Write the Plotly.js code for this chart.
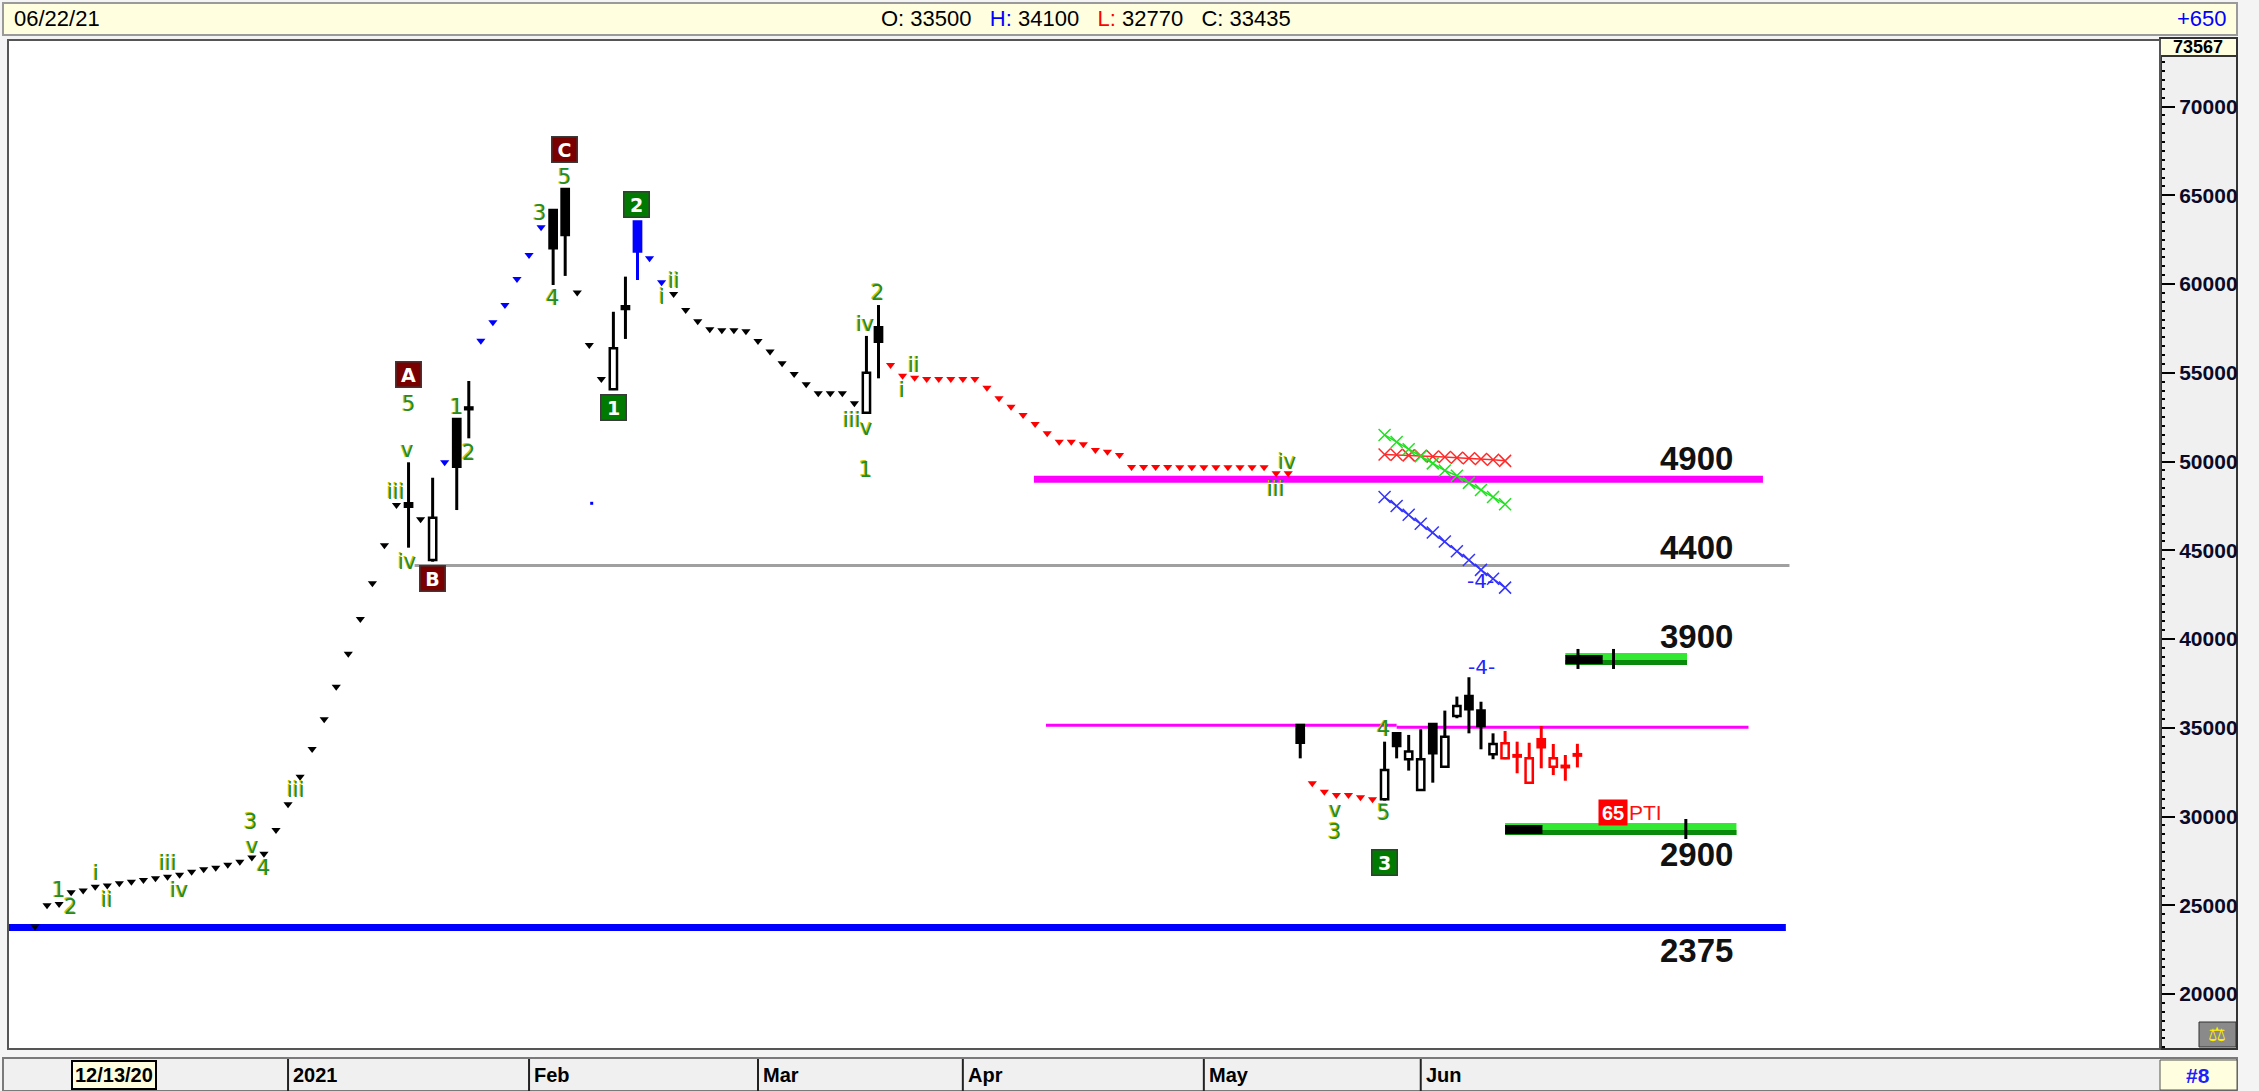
<!DOCTYPE html>
<html><head><meta charset="utf-8">
<script src="https://cdn.plot.ly/plotly-3.0.1.min.js"></script>
<style>html,body{margin:0;padding:0;background:#f4f4f4;}#chart{width:2259px;height:1091px;}</style>
</head><body><div id="chart"></div>
<script>
// ---------------- DATA ----------------
// bar slot index (x) and price (y)
const blackDotX = [0,1,2,3,4,5,6,7,8,9,10,11,12,13,14,15,16,17,18,19,20,21,22,23,24,25,26,27,28,29,30,32,45,46,47,53,54,55,56,57,58,59,60,61,62,63,64,65,66,67,68];
const blackDotY = [23800,25000,25070,25730,25830,26050,26110,26240,26330,26430,26520,26610,26720,26890,27030,27120,27290,27460,27700,27910,29240,30690,32250,33810,35480,37320,39180,41130,43140,45280,47550,46750,59520,56570,54650,59440,58540,57900,57450,57400,57400,57350,56800,56200,55540,54940,54350,53850,53850,53850,53280];
const blueDotX = [34,37,38,39,40,41,42,51,52];
const blueDotY = [49960,56810,57850,58820,60290,61640,63200,61450,60100];
const redDotX = [71,72,73,74,75,76,77,78,79,80,81,82,83,84,85,86,87,88,89,90,91,92,93,94,95,96,97,98,99,100,101,102,103,104,106,107,108,109,110,111];
const redDotY = [55440,54840,54730,54650,54650,54650,54650,54650,54160,53570,53090,52630,52120,51590,51120,51120,50970,50650,50560,50370,49690,49690,49690,49690,49680,49680,49680,49680,49680,49680,49680,49680,49340,49340,31880,31400,31220,31220,31090,30970];
const tinyBlueX = [46.2];
const tinyBlueY = [47650];

const candleX = [31,33,35,36,43,44,48,49,69,70,105,112,113,114,115,116,117,118,119,120,121];
const candleO = [47650,44460,52400,53050,64180,65360,54070,58750,52750,57570,35160,30970,34690,33230,31500,35220,32810,35670,36790,35970,33510];
const candleH = [49960,49090,52400,54540,64180,65360,58440,60420,57080,58820,35160,34220,34750,34600,34920,35250,35970,36760,37850,36470,34690];
const candleL = [45150,44360,47270,51310,59950,60460,54030,56910,52720,54690,33280,30900,33280,32590,31460,31910,32780,35540,34690,33790,33230];
const candleC = [47460,46840,49710,52950,62020,62770,56380,58600,55010,56750,34160,32620,33980,33660,33230,33570,34500,36230,36040,35100,34090];

const blueCandleX = [50];
const blueCandleO = [63520];
const blueCandleH = [63520];
const blueCandleL = [60230];
const blueCandleC = [61830];

const redCandleX = [122,123,124,125,126,127,128];
const redCandleO = [33280,33450,31910,34350,32810,32850,33500];
const redCandleH = [34820,34220,34160,35100,34090,33470,34100];
const redCandleL = [33230,32440,31880,32720,32340,32020,32770];
const redCandleC = [34130,33380,33280,33900,33280,32780,33435];

// trend lines made of x markers
const xLineX = [112,113,114,115,116,117,118,119,120,121,122];
const redXLineY = [50400,50380,50350,50330,50290,50260,50220,50190,50150,50100,50040];
const greenXLineY = [51500,51100,50700,50300,49900,49500,49200,48800,48400,48000,47600];
const blueXLineY = [48000,47500,47000,46500,46000,45500,44950,44450,43900,43400,42900];

// horizontal levels
const levelValue = [49000,44150,23750,35140,35030];
const levelStart = [82.9,31.5,-2.3,83.9,113];
const levelEnd   = [143.4,145.6,145.3,113,142.2];
const levelLabelText = ['4900','4400','3900','2900','2375'];
const levelLabelY = [50200,45160,40130,27890,22430];
const levelLabelX = 137.9;

// target zones
const zoneValue = [38880,29300];
const zoneStart = [127.0,122.0];
const zoneEnd = [137.1,141.2];
const zoneBlackEnd = [130.1,125.1];
const zoneTicks = [[128.05,131.0],[137.0]];

// wave labels
const waveText = ['1','2','i','ii','iii','iv','3','v','4','iii','v','iii','2','iv','5','3','4','5','1','ii','i','2','iv','ii','i','iii','v','1','iv','iii','4','5','v','3'];
const waveX = [1.93,2.96,5.04,6.0,11.06,11.95,17.9,17.98,18.95,21.63,30.9,30.0,35.96,30.9,43.93,41.9,42.93,30.98,34.94,53.03,52.0,69.93,68.88,72.97,71.98,67.78,68.96,68.94,103.93,102.99,111.89,111.89,107.88,107.88];
const waveY = [25860,24920,26800,25300,27370,25860,29710,28340,27090,31500,50650,48300,50500,44360,66020,63990,59200,53240,53060,60190,59290,59520,57750,55440,54030,52340,51910,49530,49990,48440,34920,30220,30370,29150];

const boxText = ['A','B','C','1','2','3'];
const boxX = [30.98,33.0,43.98,47.99,49.93,111.98];
const boxY = [54880,43390,67610,53060,64500,27420];
const boxKind = ['red','red','red','green','green','green'];

const blueMarkText = ['-4-','-4-'];
const blueMarkX = [120.06,120.0];
const blueMarkY = [38440,43300];

const ptiValue = '65';
const ptiX = 130.98;
const ptiY = 30230;

// time axis labels
const monthText = ['12/13/20','2021','Feb','Mar','Apr','May','Jun'];
const monthPos = [3,21,41,60,77,97,115];

// header
const hdrDate = '06/22/21';
const hdrO = 33500, hdrH = 34100, hdrL = 32770, hdrC = 33435;
const hdrChange = '+650';
const axisTopValue = '73567';
const panelNo = '#8';

// ---------------- LAYOUT HELPERS ----------------
const W = 2259, H = 1091;
const M = {l:8, r:99, t:40, b:42};
const plotW = W - M.l - M.r, plotH = H - M.t - M.b;
const px = x => (x - M.l) / plotW;
const py = y => (H - M.b - y) / plotH;

const traces = [];
function wickTrace(X,O,Hi,L,C,color){
  const x=[],y=[];
  for(let i=0;i<X.length;i++){
    const top=Math.max(O[i],C[i]), bot=Math.min(O[i],C[i]);
    x.push(X[i],X[i],null,X[i],X[i],null);
    y.push(Hi[i],top,null,bot,L[i],null);
  }
  return {type:'scatter',mode:'lines',x,y,line:{color,width:3},hoverinfo:'skip',showlegend:false,connectgaps:false};
}
function bodyTrace(X,O,C,upFill,downFill,lineColor){
  return {type:'bar',x:X,base:X.map((_,i)=>Math.min(O[i],C[i])),
    y:X.map((_,i)=>Math.max(Math.abs(C[i]-O[i]),80)),width:0.6,
    marker:{color:X.map((_,i)=>C[i]>=O[i]?upFill:downFill),line:{color:lineColor,width:2.5}},
    hoverinfo:'skip',showlegend:false};
}
function dots(X,Y,color,size){
  return {type:'scatter',mode:'markers',x:X,y:Y,marker:{symbol:'triangle-down',size:size||8,color},hoverinfo:'skip',showlegend:false};
}
function xline(Y,color){
  return {type:'scatter',mode:'lines+markers',x:xLineX,y:Y,line:{color,width:1.5},
    marker:{symbol:'x-thin-open',size:12,line:{color,width:1.5},color},hoverinfo:'skip',showlegend:false};
}

traces.push(wickTrace(candleX,candleO,candleH,candleL,candleC,'#000'));
traces.push(wickTrace(blueCandleX,blueCandleO,blueCandleH,blueCandleL,blueCandleC,'#0000ff'));
traces.push(wickTrace(redCandleX,redCandleO,redCandleH,redCandleL,redCandleC,'#ff0000'));
traces.push(dots(blackDotX,blackDotY,'#000'));
traces.push(dots(blueDotX,blueDotY,'#0000ff'));
traces.push(dots(redDotX,redDotY,'#ff0000'));
traces.push({type:'scatter',mode:'markers',x:tinyBlueX,y:tinyBlueY,marker:{symbol:'square',size:3,color:'#0000ff'},hoverinfo:'skip',showlegend:false});
traces.push(xline(redXLineY,'#ff2a2a'));
traces.push(xline(greenXLineY,'#22e022'));
traces.push(xline(blueXLineY,'#3434ff'));
traces.push(bodyTrace(candleX,candleO,candleC,'#ffffff','#000000','#000000'));
traces.push(bodyTrace(blueCandleX,blueCandleO,blueCandleC,'#0000ff','#0000ff','#0000ff'));
traces.push(bodyTrace(redCandleX,redCandleO,redCandleC,'#ffffff','#ff0000','#ff0000'));

// ---------------- SHAPES ----------------
const shapes = [];
shapes.push({type:'rect',xref:'paper',yref:'paper',x0:px(3),x1:px(2237),y0:py(35),y1:py(3),fillcolor:'#ffffe0',line:{color:'#9a9a9a',width:2},layer:'below'});
shapes.push({type:'rect',xref:'paper',yref:'paper',x0:1,x1:px(2237),y0:0,y1:1,fillcolor:'#f0f0f0',line:{color:'#333',width:2},layer:'below'});
shapes.push({type:'rect',xref:'paper',yref:'paper',x0:1,x1:px(2237),y0:py(56),y1:py(38),fillcolor:'#ffffe0',line:{color:'#333',width:2},layer:'above'});
shapes.push({type:'rect',xref:'paper',yref:'paper',x0:px(2199),x1:px(2236),y0:py(1047),y1:py(1022),fillcolor:'#8a8a8a',line:{color:'#333',width:1},layer:'above'});
shapes.push({type:'rect',xref:'paper',yref:'paper',x0:px(3),x1:px(2237),y0:py(1091),y1:py(1058),fillcolor:'#f0f0f0',line:{color:'#7a7a7a',width:2},layer:'below'});
shapes.push({type:'rect',xref:'paper',yref:'paper',x0:1,x1:px(2237),y0:py(1090),y1:py(1060),fillcolor:'#ffffe0',line:{color:'#555',width:1},layer:'below'});
shapes.push({type:'rect',xref:'paper',yref:'paper',x0:0,x1:1,y0:0,y1:1,line:{color:'#555',width:2},layer:'above'});
monthPos.slice(1).forEach(p=>{
  shapes.push({type:'line',xref:'x',yref:'paper',x0:p,x1:p,y0:py(1091),y1:py(1059),line:{color:'#222',width:2}});
});
const levelStyle = [{c:'#ff00ff',w:7},{c:'#a0a0a0',w:3},{c:'#0000ff',w:7},{c:'#ff00ff',w:3},{c:'#ff00ff',w:3}];
levelValue.forEach((v,i)=>{
  shapes.push({type:'line',xref:'x',yref:'y',x0:levelStart[i],x1:levelEnd[i],y0:v,y1:v,line:{color:levelStyle[i].c,width:levelStyle[i].w},layer:'below'});
});
zoneValue.forEach((v,i)=>{
  shapes.push({type:'rect',xref:'x',yref:'y',ysizemode:'pixel',yanchor:v,y0:-6,y1:6,x0:zoneStart[i],x1:zoneEnd[i],fillcolor:'#33e833',line:{width:0},layer:'below'});
  shapes.push({type:'rect',xref:'x',yref:'y',ysizemode:'pixel',yanchor:v,y0:-6,y1:-1,x0:zoneStart[i],x1:zoneEnd[i],fillcolor:'#0a8a0a',line:{width:0},layer:'below'});
  shapes.push({type:'rect',xref:'x',yref:'y',ysizemode:'pixel',yanchor:v,y0:-5,y1:4,x0:zoneStart[i],x1:zoneBlackEnd[i],fillcolor:'#000',line:{width:0},layer:'below'});
  zoneTicks[i].forEach(t=>{
    shapes.push({type:'line',xref:'x',yref:'y',ysizemode:'pixel',yanchor:v,y0:-10,y1:10,x0:t,x1:t,line:{color:'#000',width:3}});
  });
});

// ---------------- ANNOTATIONS ----------------
const ann = [];
const nb = '\u00a0\u00a0\u00a0';
ann.push({xref:'paper',yref:'paper',x:px(12),y:py(19),xanchor:'left',yanchor:'middle',showarrow:false,text:hdrDate,font:{family:'Liberation Sans, Arial',size:22,color:'#000'}});
ann.push({xref:'paper',yref:'paper',x:px(1086),y:py(19),xanchor:'center',yanchor:'middle',showarrow:false,
  text:'O: '+hdrO+nb+'<span style="color:#0000ff">H:</span> '+hdrH+nb+'<span style="color:#ff0000">L:</span> '+hdrL+nb+'C: '+hdrC,
  font:{family:'Liberation Sans, Arial',size:22,color:'#000'}});
ann.push({xref:'paper',yref:'paper',x:px(2229),y:py(19),xanchor:'right',yanchor:'middle',showarrow:false,text:hdrChange,font:{family:'Liberation Sans, Arial',size:22,color:'#0000ff'}});
ann.push({xref:'paper',yref:'paper',x:px(2198),y:py(47),xanchor:'center',yanchor:'middle',showarrow:false,text:axisTopValue,font:{family:'Liberation Sans, Arial',size:18,weight:'bold',color:'#000'}});
ann.push({xref:'paper',yref:'paper',x:px(2198),y:py(1075),xanchor:'center',yanchor:'middle',showarrow:false,text:panelNo,font:{family:'Liberation Sans, Arial',size:21,weight:'bold',color:'#2020ff'}});
ann.push({xref:'paper',yref:'paper',x:px(2217),y:py(1034),xanchor:'center',yanchor:'middle',showarrow:false,text:'\u2696',font:{family:'DejaVu Sans',size:20,color:'#ffee00'}});
monthText.forEach((t,i)=>{
  if(i===0){
    ann.push({xref:'x',yref:'paper',x:monthPos[i],y:py(1075),xanchor:'left',yanchor:'middle',showarrow:false,text:t,
      bgcolor:'#ffffe0',bordercolor:'#000',borderwidth:2,borderpad:2,font:{family:'Liberation Sans, Arial',size:20,weight:'bold',color:'#000'}});
  } else {
    ann.push({xref:'x',yref:'paper',x:monthPos[i],xshift:3,y:py(1075),xanchor:'left',yanchor:'middle',showarrow:false,text:t,
      font:{family:'Liberation Sans, Arial',size:20,weight:'bold',color:'#000'}});
  }
});
waveText.forEach((t,i)=>{
  ann.push({x:waveX[i],y:waveY[i],xshift:-1,yshift:0.5,showarrow:false,text:t,font:{family:'DejaVu Sans',size:21,color:'#c8c400'}});
  ann.push({x:waveX[i],y:waveY[i],showarrow:false,text:t,font:{family:'DejaVu Sans',size:21,color:'#1f8c2a'}});
});
boxText.forEach((t,i)=>{
  ann.push({x:boxX[i],y:boxY[i],showarrow:false,text:t,width:22,height:22,borderpad:1,
    bgcolor:boxKind[i]==='red'?'#7a0000':'#007a00',bordercolor:'#3a3a3a',borderwidth:1.5,
    font:{family:'DejaVu Sans',size:19,weight:'bold',color:'#ffffff'}});
});
blueMarkText.forEach((t,i)=>{
  ann.push({x:blueMarkX[i],y:blueMarkY[i],showarrow:false,text:t,font:{family:'DejaVu Sans',size:20,color:'#2424ff'}});
});
levelLabelText.forEach((t,i)=>{
  ann.push({x:levelLabelX,y:levelLabelY[i],showarrow:false,text:t,font:{family:'Liberation Sans, Arial',size:33,weight:'bold',color:'#111'}});
});
ann.push({x:ptiX,y:ptiY,showarrow:false,text:ptiValue,width:26,height:23,bgcolor:'#ff0000',font:{family:'Liberation Sans, Arial',size:20,weight:'bold',color:'#fff'}});
ann.push({x:ptiX,y:ptiY,xshift:14,xanchor:'left',showarrow:false,text:'PTI',font:{family:'Liberation Sans, Arial',size:21,color:'#ff1010'}});

const layout = {
  width:W,height:H,margin:{l:M.l,r:M.r,t:M.t,b:M.b,pad:0},
  paper_bgcolor:'#f4f4f4',plot_bgcolor:'#ffffff',
  font:{family:'Liberation Sans, Arial'},
  showlegend:false,barmode:'overlay',hovermode:false,
  xaxis:{range:[-2.24,176.35],showgrid:false,zeroline:false,showticklabels:false,ticks:'',showline:false,fixedrange:true},
  yaxis:{range:[16905,73752],side:'right',showgrid:false,zeroline:false,dtick:5000,tick0:0,tickformat:'d',
    ticks:'outside',ticklen:13,tickwidth:2,tickcolor:'#000',
    tickfont:{family:'Liberation Sans, Arial',size:21,weight:'bold',color:'#0a0a28'},
    showline:true,linecolor:'#333',linewidth:2,
    minor:{dtick:500,ticklen:3,tickwidth:2,tickcolor:'#000',ticks:'outside'},fixedrange:true},
  shapes,annotations:ann
};
Plotly.newPlot('chart',traces,layout,{displayModeBar:false,staticPlot:true});
</script></body></html>
